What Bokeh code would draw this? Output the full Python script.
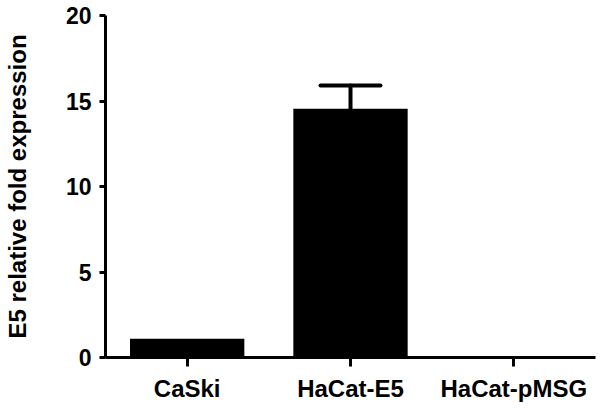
from bokeh.plotting import figure
from bokeh.models import ColumnDataSource, Whisker, FixedTicker, TeeHead
from bokeh.embed import file_html
from bokeh.resources import INLINE

categories = ["CaSki", "HaCat-E5", "HaCat-pMSG"]
values = [1.1, 14.55, 0.0]
err_categories = ["HaCat-E5"]
err_base = [14.55]
err_upper = [15.9]
y_ticks = [0, 5, 10, 15, 20]

FONT = "Liberation Sans"

p = figure(x_range=categories, y_range=(0, 20), width=598, height=404,
           output_backend="svg", toolbar_location=None,
           min_border_left=101, min_border_right=3, min_border_top=15,
           min_border_bottom=0)

src = ColumnDataSource(dict(cat=categories, val=values))
p.vbar(x="cat", top="val", width=0.7, source=src, fill_color="black", line_color=None)

esrc = ColumnDataSource(dict(cat=err_categories, base=err_base, upper=err_upper))
w = Whisker(base="cat", lower="base", upper="upper", source=esrc, dimension="height",
            line_width=4, line_color="black", line_cap="round",
            upper_head=TeeHead(size=60, line_width=4, line_color="black", line_cap="round"),
            lower_head=None)
p.add_layout(w)

p.xgrid.visible = False
p.ygrid.visible = False
p.outline_line_color = None
p.background_fill_color = "white"
p.border_fill_color = "white"

p.yaxis.ticker = FixedTicker(ticks=y_ticks)
p.yaxis.axis_label = "E5 relative fold expression"
p.yaxis.axis_label_text_font = FONT
p.yaxis.axis_label_text_font_style = "bold"
p.yaxis.axis_label_text_font_size = "24px"
p.yaxis.axis_label_text_color = "black"
p.yaxis.axis_label_standoff = 32

for ax in (p.xaxis[0], p.yaxis[0]):
    ax.axis_line_width = 3
    ax.axis_line_color = "black"
    ax.major_tick_line_width = 3
    ax.major_tick_line_color = "black"
    ax.major_tick_in = 0
    ax.minor_tick_line_color = None
    ax.major_label_text_font = FONT
    ax.major_label_text_font_style = "bold"
    ax.major_label_text_color = "black"

p.yaxis.major_label_text_font_size = "23px"
p.xaxis.major_label_text_font_size = "24px"
p.yaxis.major_tick_out = 6
p.yaxis.major_label_standoff = 8
p.xaxis.major_tick_out = 9
p.xaxis.major_label_standoff = 8

open("out.html", "w").write(file_html(p, INLINE))
